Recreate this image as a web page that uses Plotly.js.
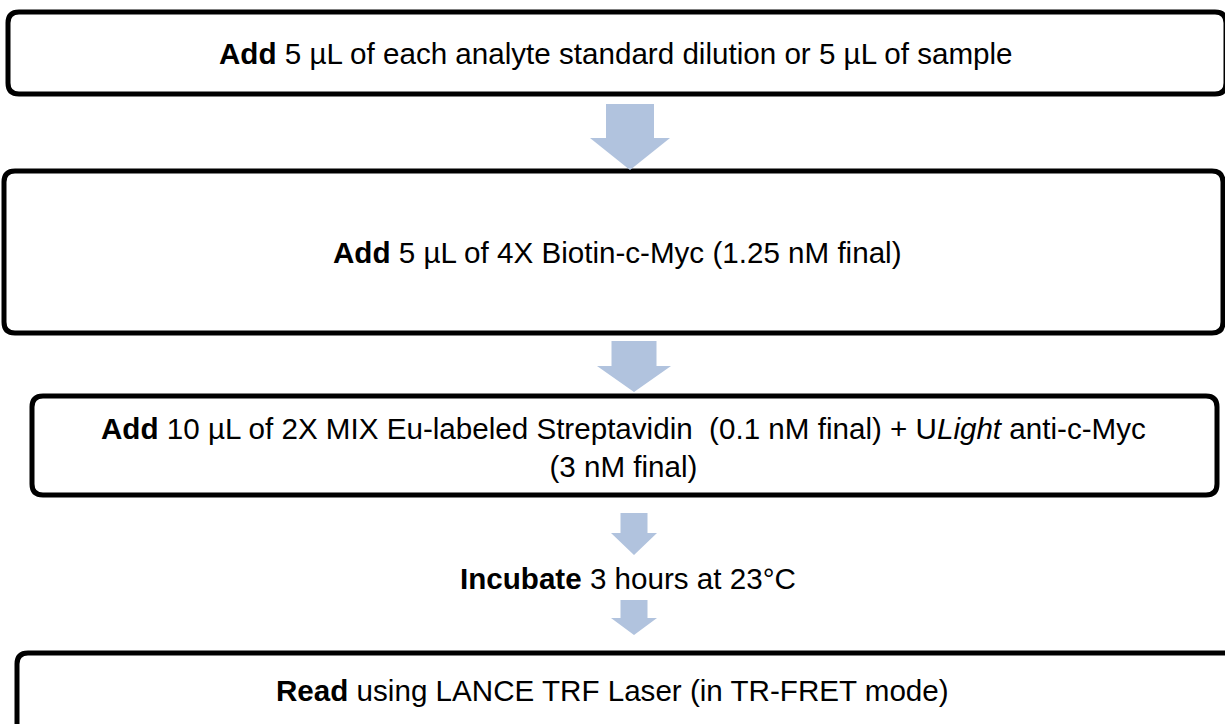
<!DOCTYPE html>
<html>
<head>
<meta charset="utf-8">
<script src="https://cdn.plot.ly/plotly-3.0.1.min.js"></script>
<style>html,body{margin:0;padding:0;background:#fff;}#chart{width:1225px;height:724px;}</style>
</head>
<body>
<div id="chart"></div>
<script>
// Step labels (flowchart content)
const stepLabels = [
  "<b>Add</b> 5 µL of each analyte standard dilution or 5 µL of sample",
  "<b>Add</b> 5 µL of 4X Biotin-c-Myc (1.25 nM final)",
  "<b>Add</b> 10 µL of 2X MIX Eu-labeled Streptavidin \u00a0(0.1 nM final) + U<i>Light</i> anti-c-Myc<br>(3 nM final)",
  "<b>Incubate</b> 3 hours at 23°C",
  "<b>Read</b> using LANCE TRF Laser (in TR-FRET mode)"
];
const stepHasBox = [true, true, true, false, true];

// Layout geometry (pixel coordinates)
const boxes = [
  {x0: 8, x1: 1226, y0: 12, y1: 94},
  {x0: 4, x1: 1223, y0: 171, y1: 333},
  {x0: 32, x1: 1217, y0: 396, y1: 495},
  null,
  {x0: 17, x1: 1250, y0: 653, y1: 770}
];
const textPos = [
  {x: 616, y: 53},
  {x: 617, y: 252},
  {x: 623, y: 447},
  {x: 628, y: 578},
  {x: 612, y: 690}
];
const arrows = [
  {cx: 630, sw: 48, hw: 80, top: 104, neck: 138, tip: 170},
  {cx: 634, sw: 45, hw: 74, top: 341, neck: 366, tip: 392},
  {cx: 634, sw: 27, hw: 46, top: 513, neck: 533, tip: 555},
  {cx: 634, sw: 27, hw: 46, top: 600, neck: 618, tip: 635}
];

function roundRect(b, r) {
  return `M${b.x0 + r},${b.y0} H${b.x1 - r} Q${b.x1},${b.y0} ${b.x1},${b.y0 + r} ` +
         `V${b.y1 - r} Q${b.x1},${b.y1} ${b.x1 - r},${b.y1} H${b.x0 + r} ` +
         `Q${b.x0},${b.y1} ${b.x0},${b.y1 - r} V${b.y0 + r} Q${b.x0},${b.y0} ${b.x0 + r},${b.y0} Z`;
}
function arrowPath(a) {
  const s = a.sw / 2, h = a.hw / 2;
  return `M${a.cx - s},${a.top} L${a.cx + s},${a.top} L${a.cx + s},${a.neck} L${a.cx + h},${a.neck} ` +
         `L${a.cx},${a.tip} L${a.cx - h},${a.neck} L${a.cx - s},${a.neck} Z`;
}

const shapes = [];
boxes.forEach((b, i) => {
  if (stepHasBox[i] && b) {
    shapes.push({type: 'path', xref: 'x', yref: 'y', path: roundRect(b, 11),
      line: {color: '#000000', width: 5}, fillcolor: 'rgba(255,255,255,0)'});
  }
});
arrows.forEach(a => {
  shapes.push({type: 'path', xref: 'x', yref: 'y', path: arrowPath(a),
    line: {width: 0}, fillcolor: '#b1c3de'});
});

const annotations = stepLabels.map((t, i) => ({
  x: textPos[i].x, y: textPos[i].y, xref: 'x', yref: 'y', text: t,
  showarrow: false, align: 'center', xanchor: 'center', yanchor: 'middle',
  font: {family: 'Liberation Sans, Arial, sans-serif', size: 29.6, color: '#000000'}
}));

const layout = {
  width: 1225, height: 724,
  margin: {l: 0, r: 0, t: 0, b: 0},
  paper_bgcolor: '#ffffff', plot_bgcolor: '#ffffff',
  xaxis: {range: [0, 1225], visible: false, fixedrange: true},
  yaxis: {range: [724, 0], visible: false, fixedrange: true},
  shapes: shapes, annotations: annotations, showlegend: false
};
Plotly.newPlot('chart', [], layout, {displayModeBar: false, staticPlot: true});
</script>
</body>
</html>
